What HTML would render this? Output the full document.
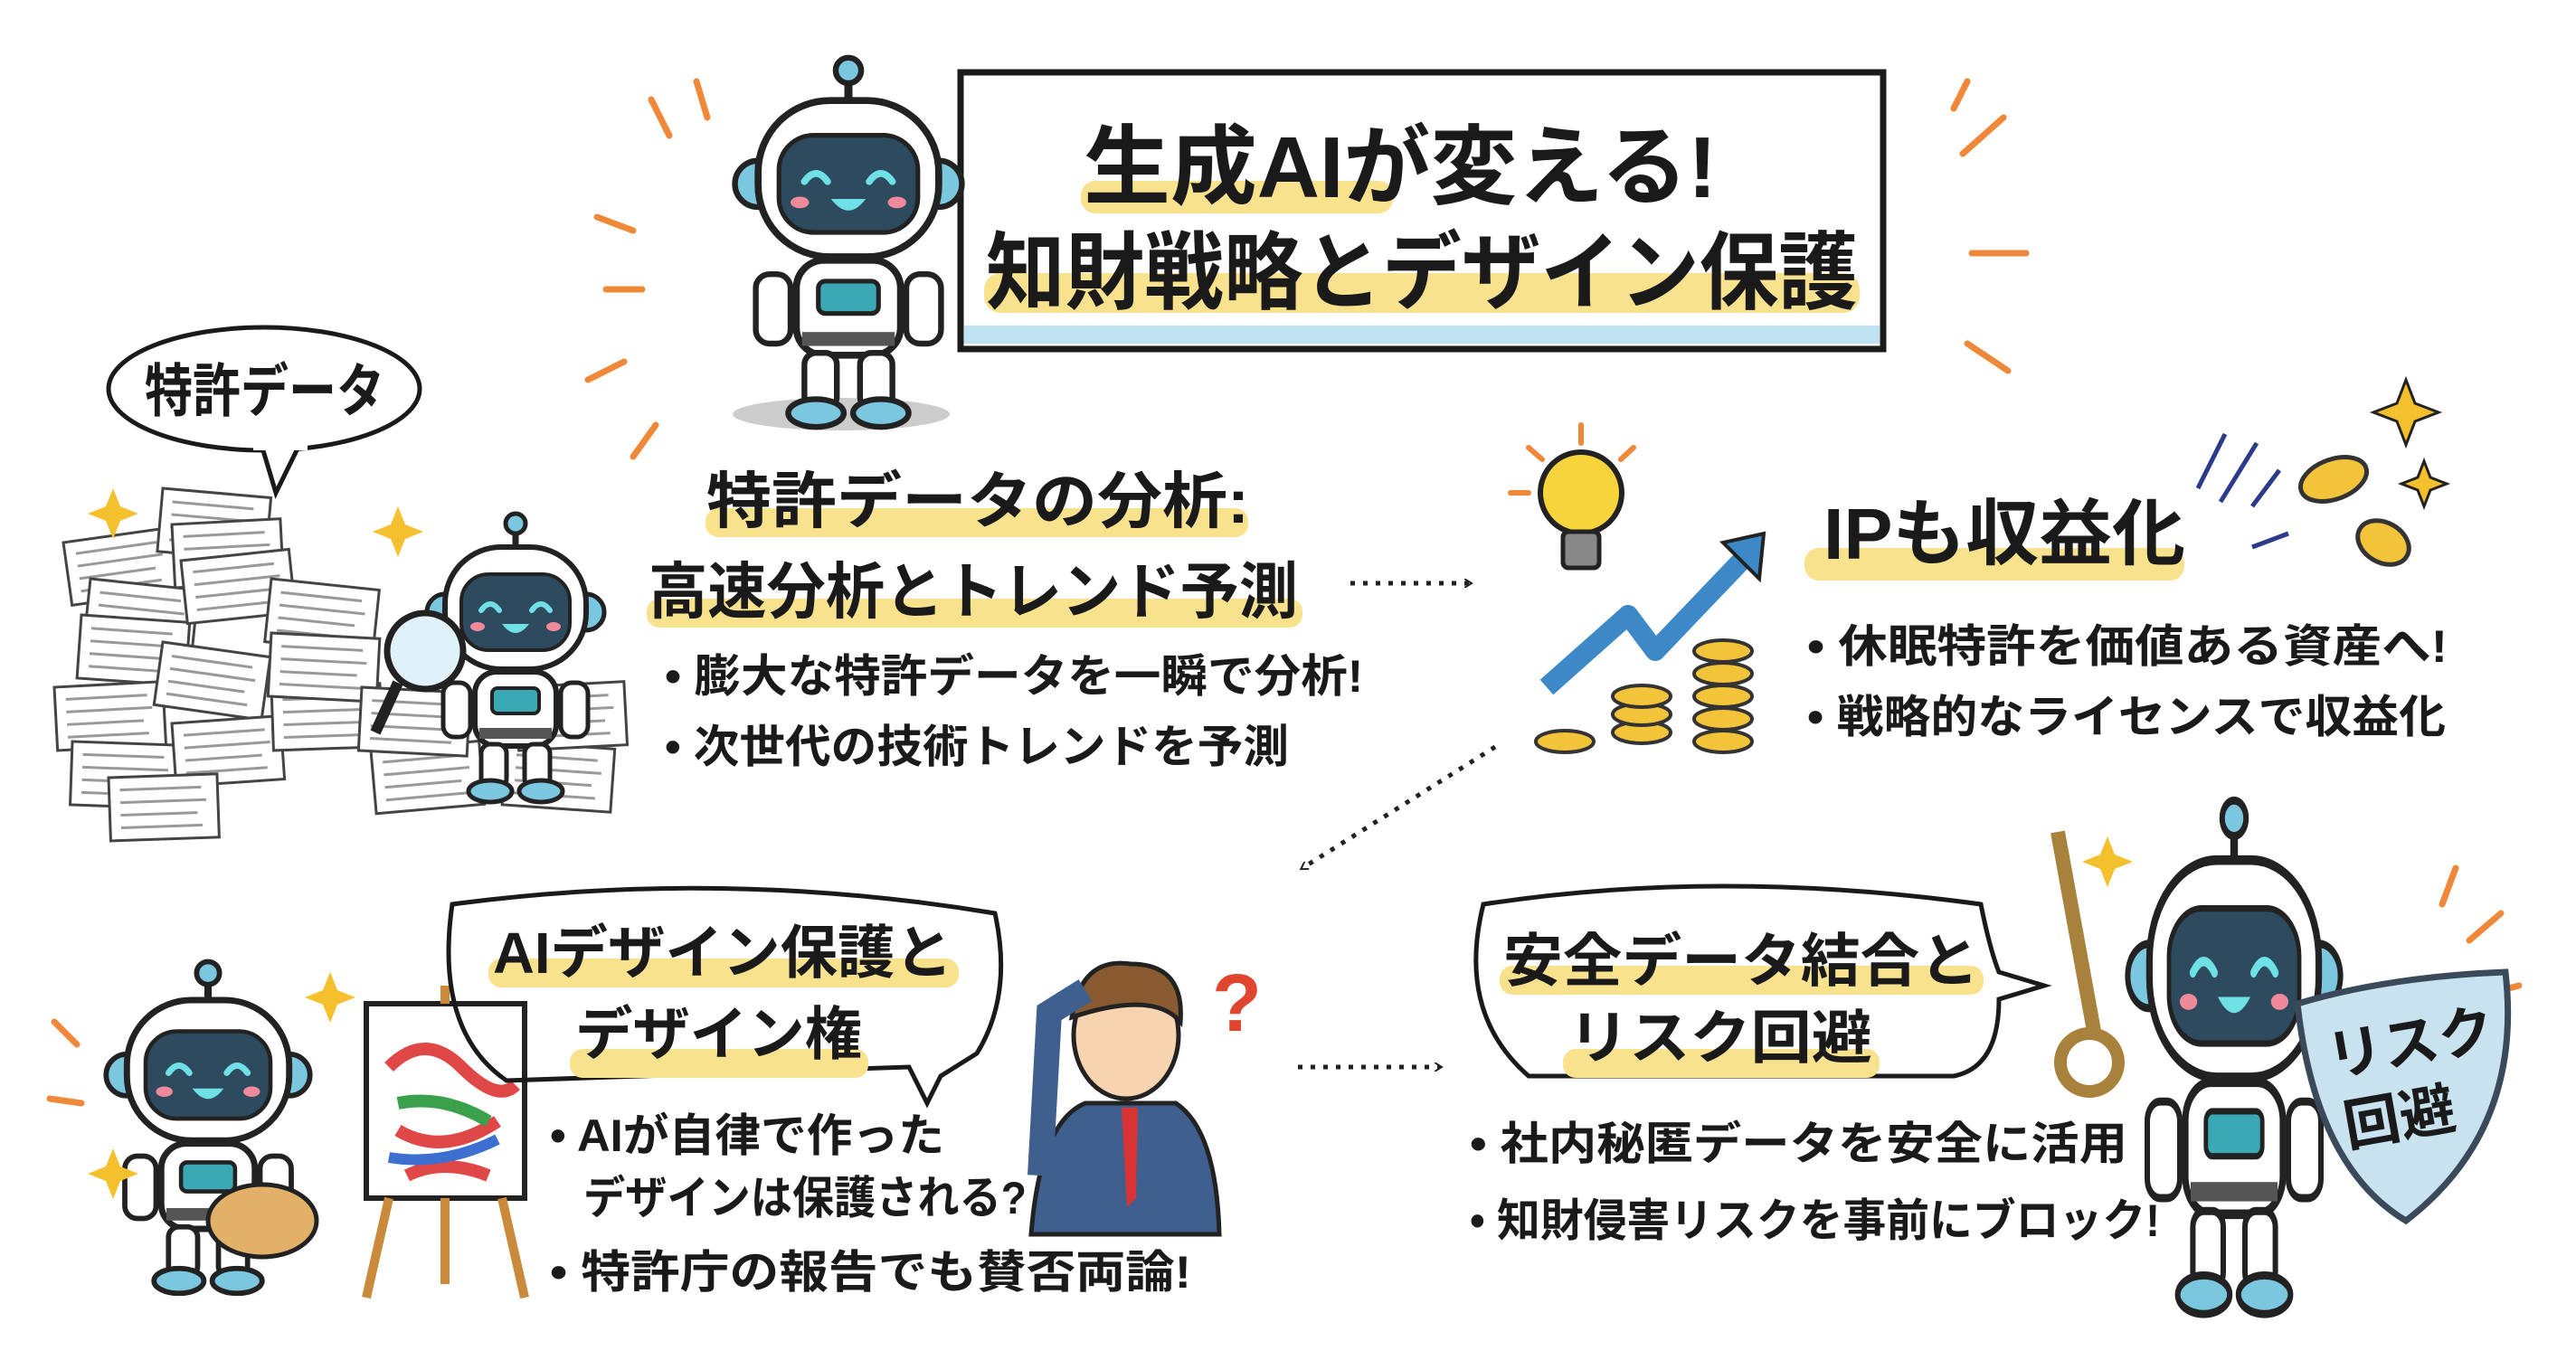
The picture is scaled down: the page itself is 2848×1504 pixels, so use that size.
<!DOCTYPE html>
<html><head><meta charset="utf-8"><style>
html,body{margin:0;padding:0;background:#fff}
svg{display:block}
text{font-family:"Liberation Sans","Noto Sans CJK JP",sans-serif;font-weight:bold;fill:#1a1a1a}
</style></head><body>
<svg width="2848" height="1504" viewBox="0 0 2848 1504" xmlns="http://www.w3.org/2000/svg">
<defs>
<g id="rb">
 <line x1="100" y1="14" x2="100" y2="44" stroke="#222" stroke-width="7"/>
 <circle cx="100" cy="14" r="11" fill="#7cc7e0" stroke="#222" stroke-width="5"/>
 <circle cx="22" cy="112" r="20" fill="#7cc7e0" stroke="#222" stroke-width="5"/>
 <circle cx="178" cy="112" r="20" fill="#7cc7e0" stroke="#222" stroke-width="5"/>
 <rect x="22" y="40" width="156" height="135" rx="62" fill="#fff" stroke="#222" stroke-width="6"/>
 <rect x="40" y="70" width="120" height="84" rx="30" fill="#2e4a5e" stroke="#222" stroke-width="4"/>
 <path d="M62 110 q10 -14 20 0 M118 110 q10 -14 20 0" stroke="#6ee0e6" stroke-width="6" fill="none" stroke-linecap="round"/>
 <path d="M85 125 q15 20 30 0 z" fill="#6ee0e6"/>
 <ellipse cx="58" cy="128" rx="8" ry="5" fill="#f08a9a"/><ellipse cx="142" cy="128" rx="8" ry="5" fill="#f08a9a"/>
 <rect x="20" y="190" width="30" height="60" rx="12" fill="#fff" stroke="#222" stroke-width="5"/>
 <rect x="150" y="190" width="30" height="60" rx="12" fill="#fff" stroke="#222" stroke-width="5"/>
 <rect x="55" y="178" width="90" height="82" rx="24" fill="#fff" stroke="#222" stroke-width="6"/>
 <rect x="74" y="196" width="52" height="28" rx="6" fill="#3aa9b5" stroke="#222" stroke-width="4"/>
 <rect x="60" y="240" width="80" height="12" fill="#555"/>
 <rect x="62" y="258" width="28" height="48" rx="10" fill="#fff" stroke="#222" stroke-width="5"/>
 <rect x="110" y="258" width="28" height="48" rx="10" fill="#fff" stroke="#222" stroke-width="5"/>
 <ellipse cx="72" cy="310" rx="24" ry="12" fill="#7cc7e0" stroke="#222" stroke-width="5"/>
 <ellipse cx="128" cy="310" rx="24" ry="12" fill="#7cc7e0" stroke="#222" stroke-width="5"/>
</g>
<g id="paper">
 <rect x="0" y="0" width="120" height="70" fill="#fff" stroke="#444" stroke-width="3"/>
 <path d="M12 14h90M12 28h95M12 42h85M12 56h90" stroke="#999" stroke-width="3"/>
</g>
<g id="coin"><ellipse cx="0" cy="0" rx="32" ry="12" fill="#f3c33a" stroke="#333" stroke-width="4"/></g>
<marker id="ah" markerWidth="10" markerHeight="10" refX="6" refY="5" orient="auto" markerUnits="userSpaceOnUse" viewBox="0 0 10 10"><path d="M0 0 L8 5 L0 10" fill="none" stroke="#222" stroke-width="2"/></marker>
</defs>

<rect x="1062" y="80" width="1020" height="306" fill="#fff" stroke="#1a1a1a" stroke-width="7"/>
<rect x="1066" y="360" width="1012" height="20" fill="#bfe3f2"/>
<rect x="1195" y="200" width="345" height="36" rx="16" fill="#f9e28e"/>
<rect x="1088" y="302" width="968" height="44" rx="18" fill="#f9e28e"/>
<text x="1198" y="218" font-size="96" textLength="700" lengthAdjust="spacingAndGlyphs">生成AIが変える!</text>
<text x="1090" y="334" font-size="94" textLength="964" lengthAdjust="spacingAndGlyphs">知財戦略とデザイン保護</text>

<g stroke="#f0883a" stroke-width="7" stroke-linecap="round">
 <line x1="720" y1="110" x2="740" y2="150"/><line x1="660" y1="240" x2="700" y2="255"/><line x1="650" y1="420" x2="690" y2="400"/><line x1="700" y1="505" x2="725" y2="470"/><line x1="670" y1="320" x2="710" y2="320"/><line x1="770" y1="90" x2="782" y2="130"/>
 <line x1="2170" y1="170" x2="2215" y2="130"/><line x1="2180" y1="280" x2="2240" y2="280"/><line x1="2175" y1="380" x2="2220" y2="410"/><line x1="2160" y1="120" x2="2175" y2="90"/>
 <line x1="2700" y1="1000" x2="2715" y2="960"/><line x1="2730" y1="1040" x2="2765" y2="1010"/><line x1="2745" y1="1100" x2="2785" y2="1090"/>
 <line x1="60" y1="1130" x2="85" y2="1155"/><line x1="55" y1="1215" x2="90" y2="1220"/>
</g>

<ellipse cx="930" cy="458" rx="120" ry="18" fill="#ccc"/>
<use href="#rb" transform="translate(810,60) scale(1.28)"/>

<ellipse cx="292" cy="430" rx="172" ry="68" fill="#fff" stroke="#1a1a1a" stroke-width="5"/>
<path d="M290 495 L305 545 L330 494" fill="#fff" stroke="#1a1a1a" stroke-width="5"/>
<rect x="280" y="490" width="60" height="8" fill="#fff"/>
<text x="160" y="455" font-size="64" textLength="265" lengthAdjust="spacingAndGlyphs">特許データ</text>

<g>
 <use href="#paper" transform="translate(70,600) rotate(-8)"/><use href="#paper" transform="translate(180,540) rotate(5)"/>
 <use href="#paper" transform="translate(190,580) rotate(-3)"/><use href="#paper" transform="translate(100,640) rotate(6)"/>
 <use href="#paper" transform="translate(90,680) rotate(4)"/><use href="#paper" transform="translate(200,620) rotate(-6)"/>
 <use href="#paper" transform="translate(60,760) rotate(-3)"/><use href="#paper" transform="translate(180,710) rotate(8)"/>
 <use href="#paper" transform="translate(80,820) rotate(2)"/><use href="#paper" transform="translate(190,800) rotate(-4)"/>
 <use href="#paper" transform="translate(300,640) rotate(6)"/><use href="#paper" transform="translate(300,760) rotate(-2)"/>
 <use href="#paper" transform="translate(300,700) rotate(3)"/><use href="#paper" transform="translate(120,860) rotate(-2)"/>
 <use href="#paper" transform="translate(410,830) rotate(-5)"/><use href="#paper" transform="translate(560,820) rotate(4)"/>
 <use href="#paper" transform="translate(400,760) rotate(3)"/><use href="#paper" transform="translate(570,760) rotate(-3)"/>
</g>
<use href="#rb" transform="translate(470,565) scale(1.0)"/>
<circle cx="470" cy="720" r="42" fill="#dff2fa" stroke="#222" stroke-width="7"/>
<line x1="440" y1="755" x2="415" y2="810" stroke="#222" stroke-width="12"/>
<path d="M125 540 l8 20 20 8 -20 8 -8 20 -8 -20 -20 -8 20 -8z" fill="#f5c02e"/>
<path d="M440 560 l8 20 20 8 -20 8 -8 20 -8 -20 -20 -8 20 -8z" fill="#f5c02e"/>

<rect x="780" y="562" width="600" height="32" rx="14" fill="#f9e28e"/>
<rect x="715" y="662" width="725" height="32" rx="14" fill="#f9e28e"/>
<text x="781" y="578" font-size="68" textLength="600" lengthAdjust="spacingAndGlyphs">特許データの分析:</text>
<text x="717" y="678" font-size="68" textLength="718" lengthAdjust="spacingAndGlyphs">高速分析とトレンド予測</text>
<text x="735" y="765" font-size="50" textLength="772" lengthAdjust="spacingAndGlyphs">• 膨大な特許データを一瞬で分析!</text>
<text x="735" y="843" font-size="50" textLength="690" lengthAdjust="spacingAndGlyphs">• 次世代の技術トレンドを予測</text>
<line x1="1493" y1="645" x2="1625" y2="645" stroke="#222" stroke-width="5" stroke-dasharray="5 9" marker-end="url(#ah)"/>

<circle cx="1748" cy="545" r="45" fill="#f7d33c" stroke="#222" stroke-width="6"/>
<rect x="1728" y="588" width="40" height="40" rx="6" fill="#888" stroke="#222" stroke-width="5"/>
<g stroke="#f0883a" stroke-width="6" stroke-linecap="round"><line x1="1748" y1="470" x2="1748" y2="490"/><line x1="1690" y1="495" x2="1705" y2="508"/><line x1="1806" y1="495" x2="1792" y2="508"/><line x1="1670" y1="545" x2="1690" y2="545"/></g>
<path d="M1710 760 L1800 680 L1830 720 L1935 610" stroke="#3d89c8" stroke-width="22" fill="none" stroke-linejoin="round"/>
<path d="M1905 600 L1950 590 L1945 640 z" fill="#3d89c8" stroke="#222" stroke-width="4"/>
<g><use href="#coin" transform="translate(1730,820)"/><use href="#coin" transform="translate(1815,810)"/><use href="#coin" transform="translate(1815,790)"/><use href="#coin" transform="translate(1815,770)"/>
<use href="#coin" transform="translate(1905,820)"/><use href="#coin" transform="translate(1905,795)"/><use href="#coin" transform="translate(1905,770)"/><use href="#coin" transform="translate(1905,745)"/><use href="#coin" transform="translate(1905,720)"/></g>
<ellipse cx="2580" cy="530" rx="38" ry="22" fill="#f3c33a" stroke="#333" stroke-width="5" transform="rotate(-20 2580 530)"/>
<ellipse cx="2635" cy="600" rx="30" ry="22" fill="#f3c33a" stroke="#333" stroke-width="5" transform="rotate(30 2635 600)"/>
<path d="M2660 420 l10 26 26 10 -26 10 -10 26 -10 -26 -26 -10 26 -10z" fill="#f5c02e" stroke="#222" stroke-width="3"/>
<path d="M2680 510 l7 18 18 7 -18 7 -7 18 -7 -18 -18 -7 18 -7z" fill="#f5c02e" stroke="#222" stroke-width="3"/>
<g stroke="#2b3a8a" stroke-width="5"><line x1="2430" y1="540" x2="2460" y2="480"/><line x1="2455" y1="555" x2="2495" y2="490"/><line x1="2490" y1="560" x2="2520" y2="520"/><line x1="2490" y1="605" x2="2530" y2="590"/></g>

<rect x="1995" y="606" width="420" height="36" rx="16" fill="#f9e28e"/>
<text x="2016" y="618" font-size="80" textLength="400" lengthAdjust="spacingAndGlyphs">IPも収益化</text>
<text x="1998" y="732" font-size="50" textLength="708" lengthAdjust="spacingAndGlyphs">• 休眠特許を価値ある資産へ!</text>
<text x="1998" y="810" font-size="50" textLength="706" lengthAdjust="spacingAndGlyphs">• 戦略的なライセンスで収益化</text>

<line x1="1653" y1="826" x2="1440" y2="960" stroke="#222" stroke-width="5" stroke-dasharray="5 9" marker-end="url(#ah)"/>

<use href="#rb" transform="translate(115,1060) scale(1.15)"/>
<rect x="405" y="1110" width="175" height="215" fill="#fff" stroke="#222" stroke-width="6"/>
<path d="M430 1180 q40 -40 80 0 t60 20 M440 1250 q50 30 110 -10 M450 1300 q40 -20 90 0" stroke="#e04848" stroke-width="14" fill="none"/>
<path d="M440 1220 q50 -10 100 20" stroke="#3aa04a" stroke-width="14" fill="none"/>
<path d="M430 1280 q60 10 120 -20" stroke="#3d6fd1" stroke-width="12" fill="none"/>
<g stroke="#c98a3c" stroke-width="10"><line x1="430" y1="1325" x2="405" y2="1435"/><line x1="555" y1="1325" x2="580" y2="1435"/><line x1="492" y1="1325" x2="492" y2="1420"/><line x1="492" y1="1090" x2="492" y2="1110"/></g>
<ellipse cx="290" cy="1350" rx="60" ry="40" fill="#e3b06a" stroke="#222" stroke-width="5"/>
<path d="M365 1075 l8 20 20 8 -20 8 -8 20 -8 -20 -20 -8 20 -8z" fill="#f5c02e"/>
<path d="M125 1270 l8 20 20 8 -20 8 -8 20 -8 -20 -20 -8 20 -8z" fill="#f5c02e"/>

<path d="M500 1000 Q800 960 1100 1010 Q1120 1100 1080 1165 L1040 1190 L1025 1220 L1005 1180 L560 1195 Q480 1140 500 1000z" fill="none" stroke="#1a1a1a" stroke-width="5"/>
<rect x="540" y="1060" width="520" height="32" rx="14" fill="#f9e28e"/>
<rect x="630" y="1160" width="330" height="32" rx="14" fill="#f9e28e"/>
<text x="545" y="1076" font-size="64" textLength="508" lengthAdjust="spacingAndGlyphs">AIデザイン保護と</text>
<text x="636" y="1166" font-size="64" textLength="317" lengthAdjust="spacingAndGlyphs">デザイン権</text>

<!-- man (moved right) -->
<path d="M1140 1365 Q1150 1240 1200 1220 L1300 1220 Q1345 1250 1348 1365 z" fill="#3f5f8f" stroke="#222" stroke-width="5"/>
<path d="M1240 1225 L1258 1225 L1256 1325 L1246 1335 z" fill="#d83434"/>
<ellipse cx="1245" cy="1145" rx="58" ry="70" fill="#f7d3b0" stroke="#222" stroke-width="5"/>
<path d="M1185 1125 Q1195 1058 1250 1066 Q1310 1066 1305 1130 Q1275 1095 1185 1125z" fill="#8a5a30" stroke="#222" stroke-width="5"/>
<path d="M1150 1300 L1160 1120 L1200 1095" stroke="#3f5f8f" stroke-width="28" fill="none"/>
<text x="1340" y="1140" font-size="90" style="fill:#e04530">?</text>

<text x="608" y="1273" font-size="50" textLength="436" lengthAdjust="spacingAndGlyphs">• AIが自律で作った</text>
<text x="645" y="1342" font-size="50" textLength="490" lengthAdjust="spacingAndGlyphs">デザインは保護される?</text>
<text x="608" y="1424" font-size="50" textLength="709" lengthAdjust="spacingAndGlyphs">• 特許庁の報告でも賛否両論!</text>

<line x1="1435" y1="1180" x2="1592" y2="1180" stroke="#222" stroke-width="5" stroke-dasharray="5 9" marker-end="url(#ah)"/>

<path d="M1640 1000 Q1900 960 2190 1000 Q2200 1050 2210 1075 L2260 1090 L2210 1105 Q2210 1180 2160 1190 L1690 1190 Q1610 1120 1640 1000z" fill="none" stroke="#1a1a1a" stroke-width="5"/>
<rect x="1658" y="1068" width="535" height="32" rx="14" fill="#f9e28e"/>
<rect x="1728" y="1160" width="350" height="32" rx="14" fill="#f9e28e"/>
<text x="1662" y="1085" font-size="64" textLength="526" lengthAdjust="spacingAndGlyphs">安全データ結合と</text>
<text x="1734" y="1170" font-size="64" textLength="336" lengthAdjust="spacingAndGlyphs">リスク回避</text>
<text x="1625" y="1282" font-size="50" textLength="727" lengthAdjust="spacingAndGlyphs">• 社内秘匿データを安全に活用</text>
<text x="1625" y="1367" font-size="50" textLength="763" lengthAdjust="spacingAndGlyphs">• 知財侵害リスクを事前にブロック!</text>

<circle cx="2310" cy="1175" r="32" fill="none" stroke="#a8823c" stroke-width="14"/>
<line x1="2315" y1="1140" x2="2275" y2="920" stroke="#a8823c" stroke-width="16"/>
<use href="#rb" transform="translate(2350,880) scale(1.2,1.78)"/>
<path d="M2540 1110 Q2640 1080 2770 1075 Q2790 1250 2660 1350 Q2560 1290 2540 1110z" fill="#c8e2ef" stroke="#3a4a5a" stroke-width="7"/>
<text x="2580" y="1180" font-size="62" transform="rotate(-10 2640 1200)">リスク</text>
<text x="2595" y="1260" font-size="62" transform="rotate(-10 2640 1260)">回避</text>
<path d="M2330 925 l8 20 20 8 -20 8 -8 20 -8 -20 -20 -8 20 -8z" fill="#f5c02e"/>
</svg>
</body></html>
